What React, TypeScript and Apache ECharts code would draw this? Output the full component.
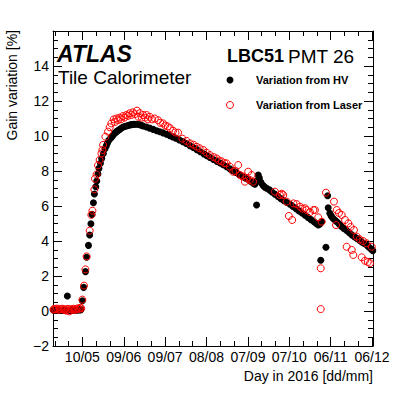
import React, { useEffect, useRef } from 'react';
import * as echarts from 'echarts';

// x values are days since 10 May 2016
const xTickDays = [0, 30, 60, 90, 120, 150, 180, 210];
const xTickLabels = ['10/05', '09/06', '09/07', '08/08', '07/09', '07/10', '06/11', '06/12'];
const xMinorDays = [-20, -10, 10, 20, 40, 50, 70, 80, 100, 110, 130, 140, 160, 170, 190, 200];

// Variation from HV (black)
const hvBaseline: number[][] = [
  [-21.0, 0.04], [-20.0, 0.05], [-19.0, 0.03], [-18.0, 0.06], [-17.0, 0.04], [-16.0, 0.05], [-15.0, 0.03],
  [-14.0, 0.05], [-13.0, 0.04], [-12.0, 0.06], [-10.0, 0.04], [-9.0, 0.05], [-8.0, 0.03], [-7.0, 0.05],
  [-6.0, 0.04], [-5.0, 0.06], [-4.0, 0.05], [-3.0, 0.07], [-2.0, 0.06], [-1.0, 0.08],
];
const hvRamp: number[][] = [
  [0.0, 0.59], [0.9, 1.35], [2.2, 2.25], [3.1, 3.07], [4.4, 3.75], [5.3, 4.34], [6.2, 4.99], [7.0, 5.52],
  [8.0, 6.19], [8.7, 6.69], [9.7, 7.1], [10.4, 7.43], [11.3, 7.83], [12.0, 8.15], [13.1, 8.44], [14.0, 8.72],
  [15.2, 9.0], [16.4, 9.27], [17.3, 9.43], [18.1, 9.58], [19.1, 9.75], [20.5, 9.87], [21.2, 9.95], [22.0, 10.02],
  [23.4, 10.15], [24.3, 10.22], [25.3, 10.28], [26.2, 10.33], [27.1, 10.38], [28.2, 10.44], [29.3, 10.5],
  [30.6, 10.54], [31.9, 10.57], [33.1, 10.6], [34.3, 10.63], [35.3, 10.65], [36.2, 10.66], [37.1, 10.67],
  [38.0, 10.67], [39.5, 10.67], [40.9, 10.66], [42.5, 10.62], [44.0, 10.57],
];
const hvDecline: number[][] = [
  [46.4, 10.51], [48.8, 10.45], [51.3, 10.38], [53.9, 10.3], [56.2, 10.24], [58.5, 10.18], [61.0, 10.1],
  [63.4, 10.02], [65.5, 9.95], [67.7, 9.88], [70.2, 9.78], [72.8, 9.68], [75.3, 9.57], [77.9, 9.45],
  [80.4, 9.34], [83.0, 9.22], [85.5, 9.1], [88.0, 8.98], [90.2, 8.88], [92.4, 8.78], [95.0, 8.66],
  [97.5, 8.55], [99.8, 8.46], [102.1, 8.36], [104.5, 8.25], [107.0, 8.12], [109.2, 8.02], [111.3, 7.92],
  [113.5, 7.81], [115.7, 7.7], [118.0, 7.6], [120.4, 7.5], [122.1, 7.4], [123.8, 7.3], [125.1, 7.25],
];
const hvAfterSep: number[][] = [
  [126.6, 7.45], [127.5, 7.77], [128.3, 7.6], [129.4, 7.35], [130.9, 7.18], [132.2, 7.08], [133.6, 7.01],
  [135.6, 6.92], [137.4, 6.8], [139.5, 6.68], [141.7, 6.55], [143.9, 6.42], [146.1, 6.3], [148.3, 6.2],
  [150.5, 6.1], [152.6, 5.97], [154.8, 5.85], [157.0, 5.72], [159.2, 5.6], [161.4, 5.47], [163.5, 5.35],
  [165.7, 5.22], [167.9, 5.1], [169.5, 5.0], [171.0, 4.91], [172.3, 4.98], [173.5, 5.1],
];
const hvAfterNov: number[][] = [
  [177.8, 6.59], [178.2, 5.9], [179.4, 5.58], [180.5, 5.42], [181.6, 5.3], [183.0, 5.2], [184.4, 5.1],
  [186.0, 4.98], [187.5, 4.85], [189.5, 4.72], [191.6, 4.6], [193.5, 4.47], [195.3, 4.35], [197.1, 4.25],
  [198.9, 4.15], [200.7, 4.05], [202.5, 3.95], [204.3, 3.86], [206.1, 3.77], [207.3, 3.68], [208.5, 3.6],
  [209.6, 3.52], [210.5, 3.45],
];
const hvOutliers: number[][] = [[-10.9, 0.86], [126.3, 6.06], [172.8, 2.9], [176.6, 3.64]];

// Variation from Laser (red)
const laserBaseline: number[][] = [
  [-21.0, 0.08], [-20.5, 0.12], [-19.5, 0.1], [-18.5, 0.14], [-17.5, 0.07], [-16.5, 0.12], [-15.5, 0.1],
  [-14.5, 0.13], [-13.5, 0.06], [-12.5, 0.1], [-11.5, 0.02], [-10.5, 0.12], [-9.5, -0.02], [-8.5, 0.1],
  [-7.5, 0.08], [-6.5, 0.13], [-5.5, 0.06], [-4.5, 0.1], [-3.5, 0.15], [-2.5, 0.12], [-1.5, 0.18], [-0.8, 0.15],
];
const laserRamp: number[][] = [
  [0.0, 0.65], [1.2, 1.45], [2.2, 2.38], [3.1, 3.12], [5.3, 4.59], [6.5, 5.49], [7.3, 5.73], [8.7, 6.95],
  [9.1, 7.56], [10.3, 7.8], [11.3, 8.32], [12.5, 8.63], [13.8, 9.0], [14.5, 9.2], [15.0, 9.49], [16.7, 9.96],
  [18.6, 10.25], [19.8, 10.5], [21.0, 10.72], [22.7, 10.95], [23.5, 10.8], [24.7, 11.0], [25.8, 10.9],
  [26.9, 11.05], [28.0, 10.95], [29.5, 11.14], [30.5, 11.05], [31.9, 11.2], [33.0, 11.15], [34.3, 11.3],
  [35.5, 11.2], [36.7, 11.35], [38.0, 11.25], [39.6, 11.45], [40.5, 11.1], [41.6, 11.3], [43.0, 11.05],
  [44.0, 11.2], [45.5, 11.05], [46.5, 11.2], [47.5, 10.95], [48.8, 11.1], [50.5, 10.95], [52.5, 11.0],
  [54.9, 10.9], [56.5, 10.75], [58.5, 10.72], [60.0, 10.6], [61.9, 10.55], [63.5, 10.45], [65.8, 10.3],
  [67.5, 10.2], [69.4, 10.19],
];
const laserDecline: number[][] = [
  [72.5, 9.85], [75.5, 9.72], [78.0, 9.58], [80.5, 9.5], [82.8, 9.39], [85.0, 9.3], [87.6, 9.2],
  [90.0, 9.05], [92.4, 8.91], [95.0, 8.8], [97.3, 8.72], [99.0, 8.6], [101.0, 8.55], [103.0, 8.45],
  [104.5, 8.44], [106.9, 8.25], [109.3, 7.96], [111.0, 8.0], [113.0, 8.34], [114.2, 7.77], [116.0, 7.7],
  [117.8, 7.39], [119.0, 7.6], [120.2, 7.96], [121.4, 7.49], [122.7, 7.77], [123.8, 7.39],
];
const laserAfterSep: number[][] = [
  [139.6, 6.82], [143.2, 6.63], [144.5, 6.7], [145.6, 6.63], [148.1, 6.25], [149.7, 5.43], [152.1, 5.2],
  [153.0, 6.15], [155.3, 6.11], [157.8, 5.96], [159.5, 5.85], [161.4, 5.87], [162.6, 5.77], [165.0, 5.65],
  [167.5, 5.77], [168.6, 5.77], [171.0, 5.35], [173.5, 5.1],
];
const laserAfterNov: number[][] = [
  [176.6, 6.76], [182.4, 6.25], [183.9, 4.91], [184.4, 5.77], [186.0, 5.6], [188.0, 5.49], [190.4, 5.2],
  [191.6, 3.67], [192.8, 5.01], [194.5, 4.8], [195.3, 3.49], [196.4, 3.2], [196.9, 4.63], [198.9, 4.25],
  [201.0, 4.1], [202.5, 3.07], [203.5, 4.0], [204.9, 2.87], [206.1, 3.87], [206.9, 2.8], [208.5, 2.73],
  [209.8, 3.67],
];
const laserOutliers: number[][] = [[172.8, 2.44], [172.8, 0.11]];

const FONT = '"Liberation Sans", Arial, Helvetica, sans-serif';
const INK = '#000001';

export default function App() {
  const ref = useRef<HTMLDivElement>(null);
  useEffect(() => {
    const chart = echarts.init(ref.current!, null, { renderer: 'svg' });
    const xMin = -21.3;
    const xMax = 210.7;
    const lineOn = () => ({ show: true, onZero: false, lineStyle: { color: INK, width: 1 } });
    const lineOff = () => ({ show: false, onZero: false });
    const tick = (len: number, vals?: number[]) => ({
      show: true, inside: true, length: len, lineStyle: { color: INK, width: 1 },
      ...(vals ? { customValues: vals } : {}),
    });
    const baseX = { type: 'value', min: xMin, max: xMax, splitLine: { show: false } };
    const hv = [...hvBaseline, ...hvOutliers, ...hvRamp, ...hvDecline, ...hvAfterSep, ...hvAfterNov];
    const laser = [...laserBaseline, ...laserRamp, ...laserDecline, ...laserAfterSep, ...laserAfterNov, ...laserOutliers];
    const txt = (o: any) => ({ fill: '#000', fontFamily: FONT, ...o });
    const option: any = {
      animation: false,
      backgroundColor: '#fff',
      grid: { left: 53, right: 38, top: 31, bottom: 48, containLabel: false },
      xAxis: [
        {
          ...baseX, position: 'bottom', axisLine: lineOn(), axisTick: tick(9, xTickDays),
          axisLabel: {
            show: true, customValues: xTickDays, margin: 4, color: '#000', fontSize: 14, fontFamily: FONT,
            formatter: (v: number) => xTickLabels[xTickDays.indexOf(Math.round(v))] ?? '',
          },
        },
        { ...baseX, position: 'bottom', axisLine: lineOff(), axisTick: tick(5, xMinorDays), axisLabel: { show: false } },
        { ...baseX, position: 'top', axisLine: lineOn(), axisTick: tick(9, xTickDays), axisLabel: { show: false } },
        { ...baseX, position: 'top', axisLine: lineOff(), axisTick: tick(5, xMinorDays), axisLabel: { show: false } },
      ],
      yAxis: [
        {
          type: 'value', min: -2, max: 16, interval: 2, position: 'left', axisLine: lineOn(),
          splitLine: { show: false }, axisTick: tick(9),
          minorTick: { show: true, splitNumber: 4, length: 5, lineStyle: { color: INK, width: 1 } },
          axisLabel: {
            show: true, margin: 4, color: '#000', fontSize: 14, fontFamily: FONT,
            formatter: (v: number) => (v >= 16 ? '' : v < 0 ? '\u2212' + Math.abs(v) : String(v)),
          },
        },
        {
          type: 'value', min: -2, max: 16, interval: 2, position: 'right', axisLine: lineOn(),
          splitLine: { show: false }, axisTick: tick(9),
          minorTick: { show: true, splitNumber: 4, length: 5, lineStyle: { color: INK, width: 1 } },
          axisLabel: { show: false },
        },
      ],
      series: [
        {
          name: 'Variation from HV', type: 'scatter', xAxisIndex: 0, yAxisIndex: 0,
          symbol: 'circle', symbolSize: 7, itemStyle: { color: '#000', opacity: 1 },
          data: hv,
        },
        {
          name: 'Variation from Laser', type: 'scatter', xAxisIndex: 0, yAxisIndex: 0,
          symbol: 'circle', symbolSize: 7,
          itemStyle: { color: 'rgba(0,0,0,0)', borderColor: '#ff0000', borderWidth: 1, opacity: 1 },
          data: laser,
        },
      ],
      graphic: [
        { type: 'text', x: 12, y: 30, rotation: Math.PI / 2,
          style: txt({ text: 'Gain variation [%]', fontSize: 14, align: 'right', verticalAlign: 'middle' }) },
        { type: 'text', x: 373, y: 376,
          style: txt({ text: 'Day in 2016 [dd/mm]', fontSize: 14, align: 'right', verticalAlign: 'middle' }) },
        { type: 'text', x: 57, y: 54,
          style: txt({ text: 'ATLAS', fontSize: 23, fontWeight: 'bold', fontStyle: 'italic', verticalAlign: 'middle' }) },
        { type: 'text', x: 58, y: 77,
          style: txt({ text: 'Tile Calorimeter', fontSize: 19, verticalAlign: 'middle' }) },
        { type: 'text', x: 227, y: 56,
          style: txt({ text: 'LBC51', fontSize: 18, fontWeight: 'bold', verticalAlign: 'middle' }) },
        { type: 'text', x: 288, y: 56,
          style: txt({ text: 'PMT 26', fontSize: 19, verticalAlign: 'middle' }) },
        { type: 'circle', shape: { cx: 230, cy: 80, r: 3.5 }, style: { fill: '#000' } },
        { type: 'text', x: 256, y: 80,
          style: txt({ text: 'Variation from HV', fontSize: 11, fontWeight: 'bold', verticalAlign: 'middle' }) },
        { type: 'circle', shape: { cx: 230, cy: 105, r: 3.5 }, style: { fill: 'none', stroke: '#ff0000', lineWidth: 1 } },
        { type: 'text', x: 256, y: 105,
          style: txt({ text: 'Variation from Laser', fontSize: 11, fontWeight: 'bold', verticalAlign: 'middle' }) },
      ],
    };
    chart.setOption(option);
    return () => chart.dispose();
  }, []);
  return (
    <div
      ref={ref}
      style={{ position: 'fixed', left: 0, top: 0, width: 411, height: 394, background: '#fff' }}
    />
  );
}
